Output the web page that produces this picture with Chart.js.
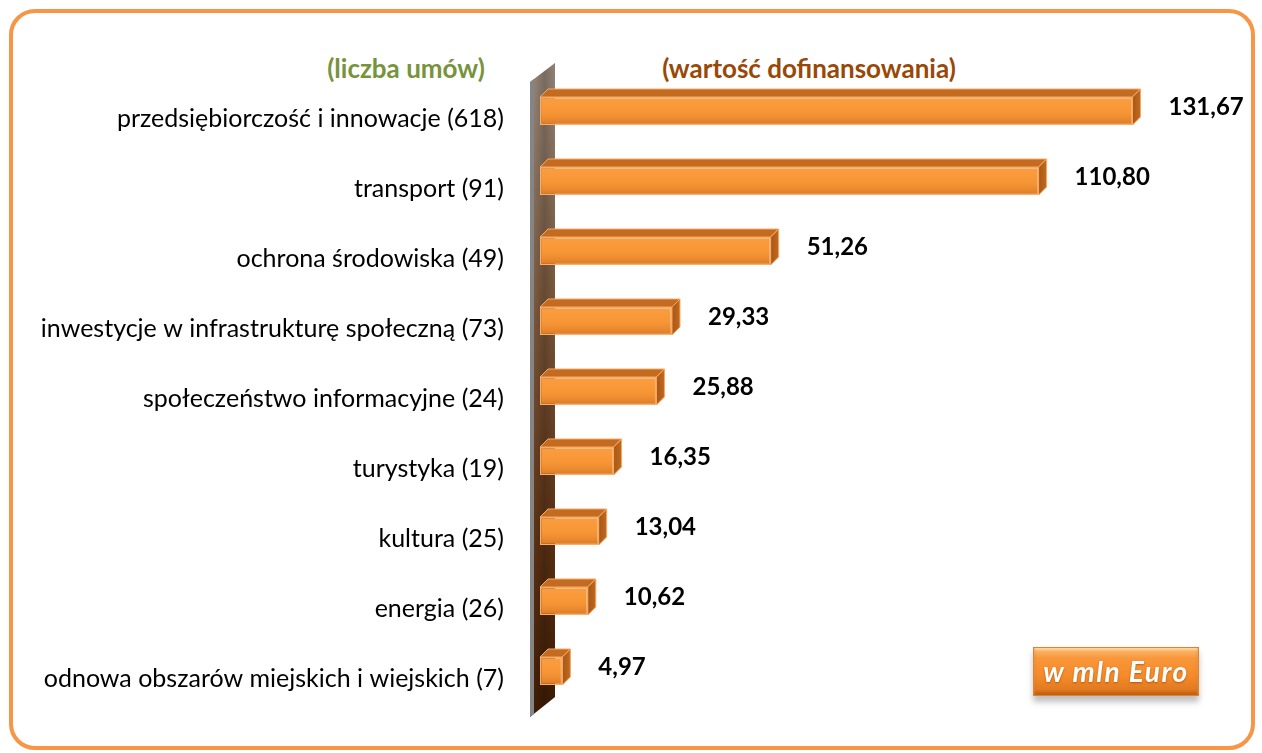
<!DOCTYPE html>
<html>
<head>
<meta charset="utf-8">
<script src="https://cdn.jsdelivr.net/npm/chart.js@4"></script>
<style>
  body { margin: 0; background: #fff; }
  #wrap { position: relative; width: 1262px; height: 753px; overflow: hidden; }
  #frame {
    position: absolute; left: 9px; top: 9px; width: 1238px; height: 733px;
    border: 4px solid #F79646; border-radius: 26px;
  }
  .head {
    position: absolute; top: 53px; font: bold 26px Lato, sans-serif; line-height: 30px;
    white-space: nowrap; transform: translateX(-50%);
  }
  #hLeft { left: 406px; color: #77933C; }
  #hRight { left: 809px; color: #984807; }
  #badge {
    position: absolute; left: 1033px; top: 647px; width: 164px; height: 47px;
    background: linear-gradient(#FDBB73 0%, #F8973A 22%, #F58A28 60%, #D9741E 100%);
    border: 1px solid #E0822E;
    box-shadow: 0 6px 6px rgba(0,0,0,0.25), inset 0 -3px 3px rgba(140,60,0,0.35), inset 0 2px 2px rgba(255,230,190,0.6);
    color: #fff; font: italic bold 28px Lato, sans-serif; letter-spacing: 1.5px;
    text-align: center; line-height: 47px;
    text-shadow: 0 1px 2px rgba(120,50,0,0.5);
  }
  canvas { position: absolute; left: 0; top: 0; }
</style>
</head>
<body>
<div id="wrap">
  <div id="frame"></div>
  <div class="head" id="hLeft">(liczba umów)</div>
  <div class="head" id="hRight">(wartość dofinansowania)</div>
  <canvas id="chart" width="1262" height="753"></canvas>
  <div id="badge">w mln Euro</div>
</div>
<script>
const categories = [
  'przedsiębiorczość i innowacje (618)',
  'transport (91)',
  'ochrona środowiska (49)',
  'inwestycje w infrastrukturę społeczną (73)',
  'społeczeństwo informacyjne (24)',
  'turystyka (19)',
  'kultura (25)',
  'energia (26)',
  'odnowa obszarów miejskich i wiejskich (7)'
]
const values = [131.67, 110.80, 51.26, 29.33, 25.88, 16.35, 13.04, 10.62, 4.97]

const depth = 8

// wall + 3D faces + value labels
const bars3d = {
  id: 'bars3d',
  beforeDatasetsDraw(chart) {
    const ctx = chart.ctx
    const ca = chart.chartArea
    const l = ca.left - 10, r = ca.left + 15
    ctx.save()
    let g = ctx.createLinearGradient(0, ca.top - 13, 0, ca.bottom + 11)
    g.addColorStop(0, '#948578')
    g.addColorStop(0.35, '#7C5A3E')
    g.addColorStop(0.7, '#5E3416')
    g.addColorStop(1, '#3E1B04')
    ctx.fillStyle = g
    ctx.beginPath()
    ctx.moveTo(l, ca.top + 6)
    ctx.lineTo(r, ca.top - 13)
    ctx.lineTo(r, ca.bottom - 9)
    ctx.lineTo(l, ca.bottom + 11)
    ctx.closePath()
    ctx.fill()
    // shading in the middle of the wall
    let h = ctx.createLinearGradient(l + 4, 0, r, 0)
    h.addColorStop(0, 'rgba(0,0,0,0)')
    h.addColorStop(0.5, 'rgba(0,0,0,0.18)')
    h.addColorStop(1, 'rgba(0,0,0,0.02)')
    ctx.fillStyle = h
    ctx.fill()
    // grey front edge
    ctx.fillStyle = '#858585'
    ctx.beginPath()
    ctx.moveTo(l, ca.top + 6)
    ctx.lineTo(l + 4, ca.top + 3)
    ctx.lineTo(l + 4, ca.bottom + 8)
    ctx.lineTo(l, ca.bottom + 11)
    ctx.closePath()
    ctx.fill()
    ctx.restore()
  },
  afterDatasetsDraw(chart) {
    const ctx = chart.ctx
    const meta = chart.getDatasetMeta(0)
    ctx.save()
    meta.data.forEach((bar, i) => {
      const x0 = bar.base, x1 = bar.x
      const top = bar.y - bar.height / 2, bot = bar.y + bar.height / 2
      // front face shading
      let g = ctx.createLinearGradient(0, top, 0, bot)
      g.addColorStop(0, 'rgba(255,255,255,0.10)')
      g.addColorStop(0.4, 'rgba(255,200,120,0.10)')
      g.addColorStop(1, 'rgba(150,60,0,0.30)')
      ctx.fillStyle = g
      ctx.fillRect(x0 + 1, top + 1, x1 - x0 - 2, bot - top - 2)
      // top face
      ctx.fillStyle = '#C46B22'
      ctx.strokeStyle = '#F9A85F'
      ctx.lineWidth = 1
      ctx.beginPath()
      ctx.moveTo(x0, top)
      ctx.lineTo(x0 + depth, top - depth)
      ctx.lineTo(x1 + depth, top - depth)
      ctx.lineTo(x1, top)
      ctx.closePath()
      ctx.fill()
      ctx.stroke()
      // right face
      let s = ctx.createLinearGradient(x1, 0, x1 + depth, 0)
      s.addColorStop(0, '#A85716')
      s.addColorStop(1, '#C06A20')
      ctx.fillStyle = s
      ctx.beginPath()
      ctx.moveTo(x1, top)
      ctx.lineTo(x1 + depth, top - depth)
      ctx.lineTo(x1 + depth, bot - depth)
      ctx.lineTo(x1, bot)
      ctx.closePath()
      ctx.fill()
      ctx.stroke()
      // value label
      ctx.fillStyle = '#000'
      ctx.font = 'bold 24px Lato, sans-serif'
      ctx.textAlign = 'left'
      ctx.textBaseline = 'middle'
      ctx.fillText(values[i].toFixed(2).replace('.', ','), x1 + 36, bar.y - 4)
    })
    ctx.restore()
  }
}

const ctx = document.getElementById('chart')

let config = {
  type: 'bar',
  data: {
    labels: categories,
    datasets: [{
      data: values,
      backgroundColor: '#F8922F',
      borderColor: '#FBAE68',
      borderWidth: 1.5,
      borderSkipped: false,
      barPercentage: 0.4,
      categoryPercentage: 1
    }]
  },
  options: {
    indexAxis: 'y',
    responsive: false,
    animation: false,
    layout: { padding: { left: 10, top: 76, right: 47, bottom: 47 } },
    plugins: { legend: { display: false }, tooltip: { enabled: false } },
    scales: {
      x: { min: 0, max: 150, display: false },
      y: {
        grid: { display: false },
        border: { display: false },
        ticks: {
          color: '#000',
          font: { family: 'Lato, sans-serif', size: 25 },
          padding: 28,
          labelOffset: 8
        },
        afterFit: scale => { scale.width = 530 }
      }
    }
  },
  plugins: [bars3d]
}
let chart = new Chart(ctx, config)
</script>
</body>
</html>
